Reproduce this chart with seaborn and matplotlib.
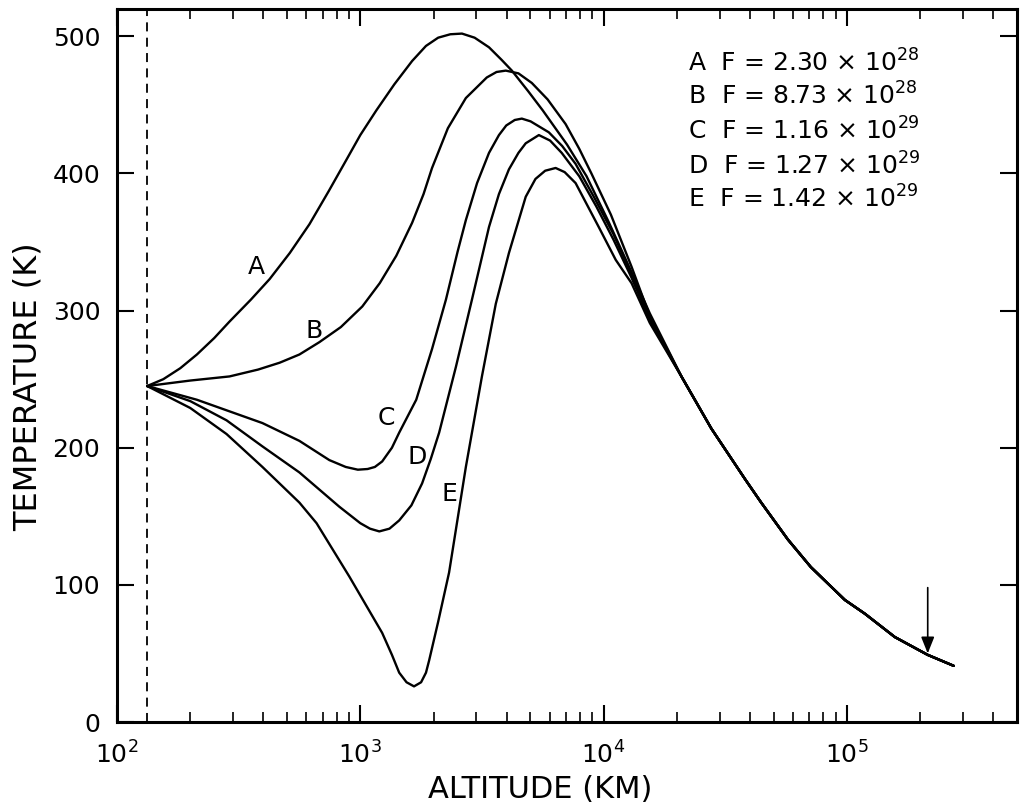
import numpy as np
import pandas as pd
import matplotlib
matplotlib.use("Agg")
import matplotlib.pyplot as plt
import seaborn as sns
from matplotlib.ticker import FixedLocator, LogLocator, NullFormatter

# ---------------- data (altitude in km, temperature in K) ----------------
curve_names = ["A", "B", "C", "D", "E"]
flux_mant = ["2.30", "8.73", "1.16", "1.27", "1.42"]
flux_exp = ["28", "28", "29", "29", "29"]

alt_A = [133, 155, 182, 213, 251, 290, 355, 424, 513, 618, 741, 877, 1000, 1164, 1380,
         1633, 1862, 2089, 2344, 2618, 2951, 3381, 3802, 4198, 4898, 5623, 7079, 8511,
         10471, 13032, 15488]
T_A = [245, 250, 258, 268, 280, 292, 308, 323, 342, 363, 387, 410, 428, 446, 465,
       482, 493, 499, 501.5, 502, 499, 492, 483, 475, 460, 446, 421, 398,
       365, 328, 298]

alt_B = [133, 200, 290, 380, 466, 562, 679, 832, 1019, 1202, 1406, 1633, 1820, 1972,
         2291, 2716, 3311, 3631, 3963, 4467, 5070, 5888, 6982, 7943, 8913, 10715,
         13032, 15488]
T_B = [245, 249, 252, 257, 262, 268, 277, 288, 303, 320, 340, 364, 385, 404,
       433, 455, 470, 474, 475, 473, 466, 454, 436, 418, 400, 370,
       332, 296]

alt_C = [133, 213, 396, 562, 746, 871, 977, 1072, 1148, 1230, 1349, 1445, 1698, 1972,
         2249, 2512, 2716, 3020, 3381, 3715, 3981, 4315, 4613, 5012, 5957, 6761, 7674,
         9120, 10965, 13032, 15488]
T_C = [245, 235, 218, 205, 191, 186, 184, 184.5, 186, 190, 200, 211, 235, 272,
       308, 343, 366, 393, 415, 428, 435, 439, 440, 438, 430, 420, 407,
       383, 356, 326, 294]

alt_D = [133, 200, 282, 396, 562, 820, 1000, 1096, 1197, 1318, 1445, 1622, 1795, 1950,
         2109, 2472, 2877, 3381, 3715, 4083, 4467, 4786, 5420, 6026, 6730, 7943, 9333,
         10965, 13032, 15488]
T_D = [245, 234, 220, 201, 182, 157, 145, 141, 139, 141, 147, 158, 174, 192,
       211, 259, 308, 361, 385, 403, 415, 422, 428, 424, 415, 398, 376,
       352, 324, 293]

alt_E = [133, 200, 282, 396, 562, 661, 902, 1230, 1349, 1445, 1549, 1663, 1778, 1862,
         1919, 2089, 2317, 2716, 3162, 3606, 4083, 4786, 5248, 5754, 6353, 6918, 7674,
         9550, 11220, 13032, 15488]
T_E = [245, 229, 210, 186, 160, 145, 106, 65, 49, 36, 29, 26, 29, 36,
       45, 73, 109, 186, 252, 305, 342, 383, 396, 402, 404, 401, 393,
       361, 337, 320, 291]

# common high-altitude tail shared by all curves
tail_alt = [20893, 27733, 38194, 44463, 57280, 71121, 98175, 118577, 157398, 214783, 274789]
tail_T = [252, 214, 177, 160, 133, 113, 89, 79, 62, 49, 41]

base_alt = 133          # dashed vertical line (lower boundary)
arrow_alt = 2.15e5      # arrow marker
arrow_T_from, arrow_T_to = 98, 50

label_alt = [375, 647, 1280, 1714, 2317]
label_T = [332, 285, 222, 193, 166]

yticks = [0, 100, 200, 300, 400, 500]
xticks = [1e2, 1e3, 1e4, 1e5]
xtick_labels = [r"$\mathregular{10^{2}}$", r"$\mathregular{10^{3}}$",
                r"$\mathregular{10^{4}}$", r"$\mathregular{10^{5}}$"]

# ---------------- build long-form table ----------------
alts = [alt_A, alt_B, alt_C, alt_D, alt_E]
temps = [T_A, T_B, T_C, T_D, T_E]
frames = []
for name, a, t in zip(curve_names, alts, temps):
    frames.append(pd.DataFrame({"alt": list(a) + tail_alt,
                                "T": list(t) + tail_T,
                                "curve": name}))
df = pd.concat(frames, ignore_index=True)

# ---------------- style ----------------
sns.set_style("ticks")
plt.rcParams["font.family"] = ["DejaVu Sans"]
plt.rcParams["mathtext.fontset"] = "custom"
plt.rcParams["mathtext.rm"] = "DejaVu Sans"
plt.rcParams["mathtext.it"] = "DejaVu Sans"
plt.rcParams["text.color"] = "black"
plt.rcParams["axes.labelcolor"] = "black"
plt.rcParams["xtick.color"] = "black"
plt.rcParams["ytick.color"] = "black"

fig = plt.figure(figsize=(10.22, 8.09), dpi=100)
ax = fig.add_axes([0.1145, 0.1075, 0.8805, 0.8815])

sns.lineplot(data=df, x="alt", y="T", hue="curve", units="curve",
             estimator=None, sort=False, palette=["black"] * 5,
             legend=False, linewidth=1.7, ax=ax)

ax.set_xscale("log")
ax.set_xlim(100, 5e5)
ax.set_ylim(0, 520)

ax.axvline(base_alt, color="black", lw=1.3, ls=(0, (5, 3.5)))

ax.annotate("", xy=(arrow_alt, arrow_T_to), xytext=(arrow_alt, arrow_T_from),
            arrowprops=dict(arrowstyle="-|>,head_length=1.0,head_width=0.4",
                            color="black", lw=1.2, shrinkA=0, shrinkB=0))

for name, la, lt in zip(curve_names, label_alt, label_T):
    ax.text(la, lt, name, fontsize=18, ha="center", va="center", color="black")

# legend-like annotation block
row_T = [474, 450, 425, 399, 375]
for name, m, e, yT in zip(curve_names, flux_mant, flux_exp, row_T):
    ax.text(22300, yT, name + "  F = " + m + r" × $\mathregular{10^{" + e + "}}$",
            fontsize=18, ha="left", va="baseline", color="black")

# axes / ticks
ax.xaxis.set_major_locator(FixedLocator(xticks))
ax.set_xticklabels(xtick_labels)
ax.xaxis.set_minor_locator(LogLocator(base=10, subs=np.arange(2, 10)))
ax.xaxis.set_minor_formatter(NullFormatter())
ax.set_yticks(yticks)
ax.tick_params(which="both", direction="in", top=True, right=True,
               labelsize=18, colors="black")
ax.tick_params(which="major", length=12, width=1.5)
ax.tick_params(which="minor", length=7, width=1.2)
ax.tick_params(axis="y", which="minor", left=False, right=False)
ax.tick_params(axis="x", which="major", pad=14)
ax.tick_params(axis="y", which="major", pad=12)
for s in ax.spines.values():
    s.set_linewidth(2.2)
    s.set_color("black")

ax.set_xlabel("ALTITUDE (KM)", fontsize=22)
ax.xaxis.set_label_coords(0.47, -0.074)
ax.set_ylabel("TEMPERATURE (K)", fontsize=23)
ax.yaxis.set_label_coords(-0.082, 0.47)

fig.savefig("out.png", dpi=100)
